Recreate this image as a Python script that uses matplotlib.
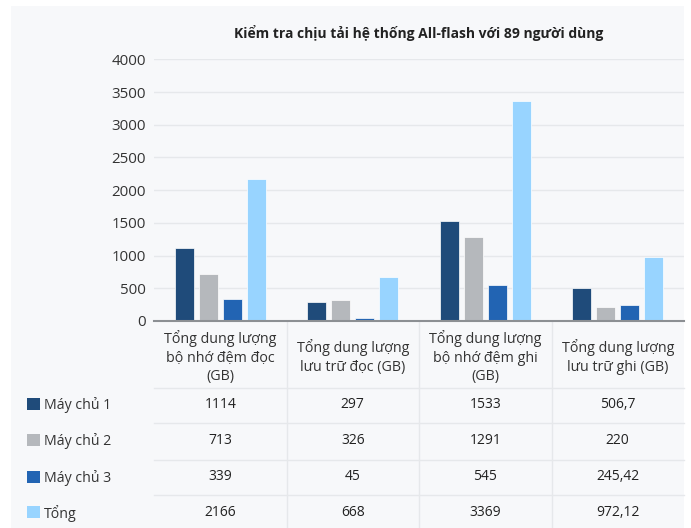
import matplotlib.pyplot as plt
import matplotlib.transforms as mtransforms
from matplotlib.patches import Rectangle
import numpy as np

plt.rcParams['font.family'] = ['Open Sans', 'DejaVu Sans']

# data
categories = ['Tổng dung lượng\nbộ nhớ đệm đọc\n(GB)',
              'Tổng dung lượng\nlưu trữ đọc (GB)',
              'Tổng dung lượng\nbộ nhớ đệm ghi\n(GB)',
              'Tổng dung lượng\nlưu trữ ghi (GB)']
series_names = ['Máy chủ 1', 'Máy chủ 2', 'Máy chủ 3', 'Tổng']
may_chu_1 = [1114, 297, 1533, 506.7]
may_chu_2 = [713, 326, 1291, 220]
may_chu_3 = [339, 45, 545, 245.42]
tong = [2166, 668, 3369, 972.12]
table_text = [['1114', '297', '1533', '506,7'],
              ['713', '326', '1291', '220'],
              ['339', '45', '545', '245,42'],
              ['2166', '668', '3369', '972,12']]
colors = ['#1f4b7a', '#b5b8bc', '#2264b3', '#98d4ff']
yticks = [0, 500, 1000, 1500, 2000, 2500, 3000, 3500, 4000]

W, H = 691, 528
fig = plt.figure(figsize=(W / 100, H / 100), dpi=100)
fig.patch.set_facecolor('white')

def fy(py):
    return 1 - py / H

# light panel behind everything
panel = Rectangle((11 / W, 0), (684 - 11) / W, fy(6), transform=fig.transFigure,
                  facecolor='#f7f8fa', edgecolor='none', zorder=-10)
fig.add_artist(panel)

ax = fig.add_axes([154 / W, fy(321), (684 - 154) / W, (321 - 59.3) / H])
ax.set_facecolor('none')
ax.set_zorder(2)

x = np.arange(len(categories))
step = 0.181
bw = 0.145
all_series = [may_chu_1, may_chu_2, may_chu_3, tong]
for i, vals in enumerate(all_series):
    ax.bar(x + (i - 1.5) * step, vals, width=bw, color=colors[i],
           edgecolor='white', linewidth=0.5, zorder=3)

ax.set_xlim(-0.5, len(categories) - 0.5)
ax.set_ylim(0, 4000)
ax.set_yticks(yticks)
ax.set_yticklabels([str(t) for t in yticks], fontsize=10.8, color='#333333')
ax.set_xticks([])
ax.tick_params(axis='y', length=0, pad=6)
ax.grid(axis='y', color='#e6e8eb', linewidth=1, zorder=0)
for s in ['top', 'right', 'left']:
    ax.spines[s].set_visible(False)
ax.spines['bottom'].set_color('#8c8f93')
ax.spines['bottom'].set_linewidth(1.5)
ax.spines['bottom'].set_zorder(4)

ax.set_title('Kiểm tra chịu tải hệ thống All-flash với 89 người dùng',
             fontsize=10, fontweight='bold', color='#222222', pad=15, x=0.5)

# category header + data table below the axis
trans = mtransforms.blended_transform_factory(ax.transData, fig.transFigure)
for i, cat in enumerate(categories):
    fig.text(x[i], fy(357), cat, transform=trans, ha='center', va='center',
             fontsize=10.3, color='#333333', linespacing=1.35)

sep_color = '#e6e8eb'
for b in np.arange(0.5, len(categories) - 0.5, 1.0):
    fig.add_artist(plt.Line2D([b, b], [fy(322), 0], transform=trans,
                              color=sep_color, linewidth=1))
for ly in [388, 423, 460, 495]:
    fig.add_artist(plt.Line2D([-0.5, len(categories) - 0.5], [fy(ly), fy(ly)],
                              transform=trans, color=sep_color, linewidth=1))

row_y = [404, 440, 477, 512]
for r, name in enumerate(series_names):
    fig.add_artist(Rectangle((27 / W, fy(row_y[r] + 6)), 13 / W, 12 / H,
                             transform=fig.transFigure, facecolor=colors[r],
                             edgecolor='none'))
    fig.text(44 / W, fy(row_y[r] + 1), name, ha='left', va='center',
             fontsize=10.2, color='#333333')
    for c in range(len(categories)):
        fig.text(x[c], fy(row_y[r]), table_text[r][c], transform=trans,
                 ha='center', va='center', fontsize=10, color='#222222')

fig.savefig('out.png', dpi=100)
